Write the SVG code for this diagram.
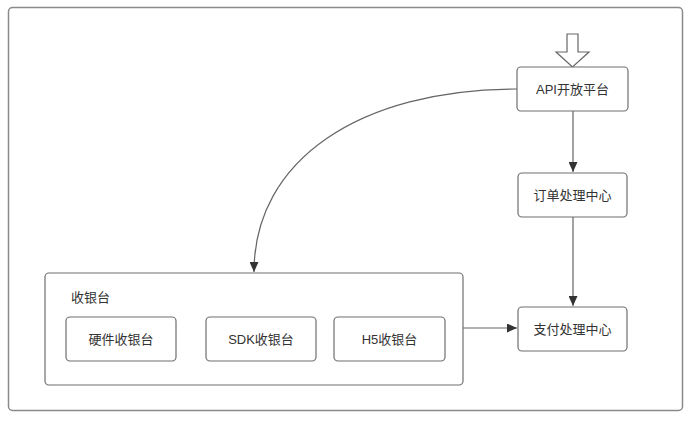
<svg xmlns="http://www.w3.org/2000/svg" width="692" height="421" viewBox="0 0 692 421">
<style>
.box{fill:#fff;stroke:#6f6f6f;stroke-width:1.2}
.frame{fill:#fff;stroke:#8a8a8a;stroke-width:1.5}
.t{font-family:"Liberation Sans","Noto Sans CJK SC",sans-serif;font-size:13px;fill:#333;text-anchor:middle;dominant-baseline:central}
.l{fill:none;stroke:#666;stroke-width:1.2}
</style>
<defs>
<marker id="ah" viewBox="0 0 10 10" refX="10" refY="5" markerWidth="10" markerHeight="9" markerUnits="userSpaceOnUse" orient="auto" preserveAspectRatio="none">
<path d="M0,0 L10,5 L0,10 z" fill="#333"/>
</marker>
</defs>
<rect x="0" y="0" width="692" height="421" fill="#fff"/>
<rect class="frame" x="8.5" y="7.5" width="674" height="403" rx="4"/>
<g id="entry">
<path d="M567,34 H578 V52 H589 L572.5,67 L556,52 H567 Z" fill="#fff" stroke="#666" stroke-width="1.2"/>
</g>
<g id="connectors">
<path class="l" d="M517,89 C360,89 254,160 254,272" marker-end="url(#ah)"/>
<path class="l" d="M573,111 V172" marker-end="url(#ah)"/>
<path class="l" d="M573,217 V306" marker-end="url(#ah)"/>
<path class="l" d="M463,328 H517" marker-end="url(#ah)"/>
</g>
<g id="api">
<rect class="box" x="517" y="67" width="111" height="44" rx="4"/>
<text class="t" x="572.5" y="89">API开放平台</text>
</g>
<g id="order">
<rect class="box" x="518" y="173" width="109" height="44" rx="4"/>
<text class="t" x="572.5" y="195">订单处理中心</text>
</g>
<g id="pay">
<rect class="box" x="518" y="307" width="109" height="44" rx="4"/>
<text class="t" x="572.5" y="329">支付处理中心</text>
</g>
<g id="cashier">
<rect class="box" x="45" y="273" width="418" height="112" rx="4"/>
<text class="t" x="71" y="297" style="text-anchor:start">收银台</text>
</g>
<g id="hw">
<rect class="box" x="66" y="317" width="110" height="44" rx="4"/>
<text class="t" x="121" y="339">硬件收银台</text>
</g>
<g id="sdk">
<rect class="box" x="206" y="317" width="110" height="44" rx="4"/>
<text class="t" x="261" y="339">SDK收银台</text>
</g>
<g id="h5">
<rect class="box" x="334" y="317" width="111" height="44" rx="4"/>
<text class="t" x="389.5" y="339">H5收银台</text>
</g>
</svg>
